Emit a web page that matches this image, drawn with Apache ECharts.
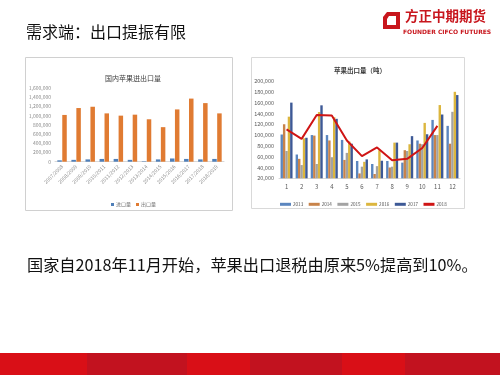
<!DOCTYPE html>
<html><head><meta charset="utf-8">
<script src="https://cdn.jsdelivr.net/npm/echarts@6/dist/echarts.min.js"></script>
<style>html,body{margin:0;padding:0;background:#fff}#c{width:500px;height:375px}</style>
</head><body><div id="c"></div>
<script>
// Left chart: 国内苹果进出口量
const seasons = ['2007/2008','2008/2009','2009/2010','2010/2011','2011/2012','2012/2013','2013/2014','2014/2015','2015/2016','2016/2017','2017/2018','2018/2019'];
const imports = [30000,40000,50000,60000,60000,40000,10000,50000,70000,60000,50000,60000];
const exports = [1015000,1165000,1193000,1049000,1000000,1021000,921000,750000,1135000,1370000,1272000,1049000];
const leftTicks = [0,200000,400000,600000,800000,1000000,1200000,1400000,1600000];

// Right chart: 苹果出口量（吨）
const months = ['1','2','3','4','5','6','7','8','9','10','11','12'];
const y2013 = [101000,64000,100000,100000,91000,52000,46500,52000,49000,90000,128000,117000];
const y2014 = [120000,56000,99000,90000,54000,29000,28000,40000,72000,84000,100000,84000];
const y2015 = [70500,44500,46500,59000,67000,41500,42500,41500,70500,83000,100000,143000];
const y2016 = [134000,94000,142500,133000,88000,50500,72000,86000,83000,122500,155500,180000];
const y2017 = [160000,95000,155000,130000,84000,55000,52500,86000,98000,101500,138000,174000];
const y2018 = [110500,93000,137000,136000,90000,61000,77000,53500,56000,76000,117000,null];
const rightTicks = [20000,40000,60000,80000,100000,120000,140000,160000,180000,200000];

const FONT = '"Noto Sans CJK SC", sans-serif';
const chart = echarts.init(document.getElementById('c'), null, {renderer:'canvas'});
const fmt = v => v.toLocaleString('en-US');

const band = [
  [0,87,'#d90f17'],[87,187,'#c2121f'],[187,250,'#d90f17'],
  [250,342,'#c2121f'],[342,405,'#d90f17'],[405,500,'#c2121f']
];

const graphics = [
  {type:'rect', shape:{x:25.5,y:57.5,width:207,height:153}, style:{fill:'none',stroke:'#d0d0d0',lineWidth:1}, z:0},
  {type:'rect', shape:{x:251.5,y:57.5,width:213,height:151}, style:{fill:'none',stroke:'#d9d9d9',lineWidth:1}, z:0},
  {type:'text', left:26, top:24, style:{text:'需求端：出口提振有限', font:'16px '+FONT, fill:'#111'}},
  {type:'text', left:27, top:257, style:{text:'国家自2018年11月开始，苹果出口退税由原来5%提高到10%。', font:'16.2px '+FONT, fill:'#111'}},
  {type:'text', left:405, top:9, style:{text:'方正中期期货', font:'bold 13.5px '+FONT, fill:'#c8161d'}},
  {type:'text', left:403, top:29, style:{text:'FOUNDER CIFCO FUTURES', font:'bold 6px "DejaVu Sans", sans-serif', fill:'#c8161d'}},
  {type:'polygon', shape:{points:[[387,12],[400,12],[400,29],[383,29],[383,17]]}, style:{fill:'#c8161d'}},
  {type:'polygon', shape:{points:[[389,16],[396,16],[396,25],[387,25],[387,19]]}, style:{fill:'#fff'}}
];
band.forEach(b => graphics.push({type:'rect', shape:{x:b[0],y:353,width:b[1]-b[0],height:22}, style:{fill:b[2]}}));

const barColors = ['#5b86bf','#c8834a','#a3a3a3','#dcb63e','#3d5996'];
const yearNames = ['2013','2014','2015','2016','2017'];
const yearData = [y2013,y2014,y2015,y2016,y2017];

const series = [
  {name:'进口量', type:'bar', xAxisIndex:0, yAxisIndex:0, data:imports, barWidth:4.5, barGap:'10%', itemStyle:{color:'#4f7fb8'}},
  {name:'出口量', type:'bar', xAxisIndex:0, yAxisIndex:0, data:exports, barWidth:4.5, itemStyle:{color:'#e07b32'}}
];
yearNames.forEach((n,i) => series.push({name:n, type:'bar', xAxisIndex:1, yAxisIndex:1, data:yearData[i], barWidth:2.4, barGap:'0%', itemStyle:{color:barColors[i]}}));
series.push({name:'2018', type:'line', xAxisIndex:1, yAxisIndex:1, data:y2018, symbol:'none', lineStyle:{color:'#cf1515', width:2}, itemStyle:{color:'#cf1515'}, z:5});

chart.setOption({
  animation:false,
  textStyle:{fontFamily:FONT},
  title:[
    {text:'国内苹果进出口量', left:128, top:70, textAlign:'center', textStyle:{fontSize:7, fontWeight:'normal', color:'#404040', fontFamily:FONT}},
    {text:'苹果出口量（吨）', left:355, top:62, textAlign:'center', textStyle:{fontSize:6.5, fontWeight:'bold', color:'#404040', fontFamily:FONT}}
  ],
  legend:[
    {data:['进口量','出口量'], left:106, top:197, icon:'rect', itemWidth:3, itemHeight:3, itemGap:5, textStyle:{fontSize:5, color:'#777', padding:[0,0,0,-3]}},
    {data:['2013','2014','2015','2016','2017','2018'], left:275, top:197, icon:'rect', itemWidth:11, itemHeight:3, itemGap:5.5, textStyle:{fontSize:4.6, color:'#555', padding:[0,0,0,-3]}}
  ],
  grid:[
    {left:55, right:276, top:88, height:73.7},
    {left:279, right:40, top:81, height:97.3}
  ],
  xAxis:[
    {type:'category', gridIndex:0, data:seasons, axisTick:{show:false}, axisLine:{lineStyle:{color:'#d9d9d9'}},
     axisLabel:{rotate:45, fontSize:5, color:'#8a8a8a', margin:4, interval:0}},
    {type:'category', gridIndex:1, data:months, axisTick:{show:false}, axisLine:{lineStyle:{color:'#d9d9d9'}},
     axisLabel:{fontSize:6, color:'#595959', margin:5, interval:0}}
  ],
  yAxis:[
    {type:'value', gridIndex:0, min:0, max:1600000, interval:200000, splitLine:{show:false}, axisLine:{show:false}, axisTick:{show:false},
     axisLabel:{fontSize:5, color:'#8a8a8a', margin:4, formatter:fmt}},
    {type:'value', gridIndex:1, min:20000, max:200000, interval:20000, splitLine:{show:false}, axisLine:{show:false}, axisTick:{show:false},
     axisLabel:{fontSize:5.5, color:'#595959', margin:5, formatter:fmt}}
  ],
  graphic:graphics,
  series:series
});
</script></body></html>
